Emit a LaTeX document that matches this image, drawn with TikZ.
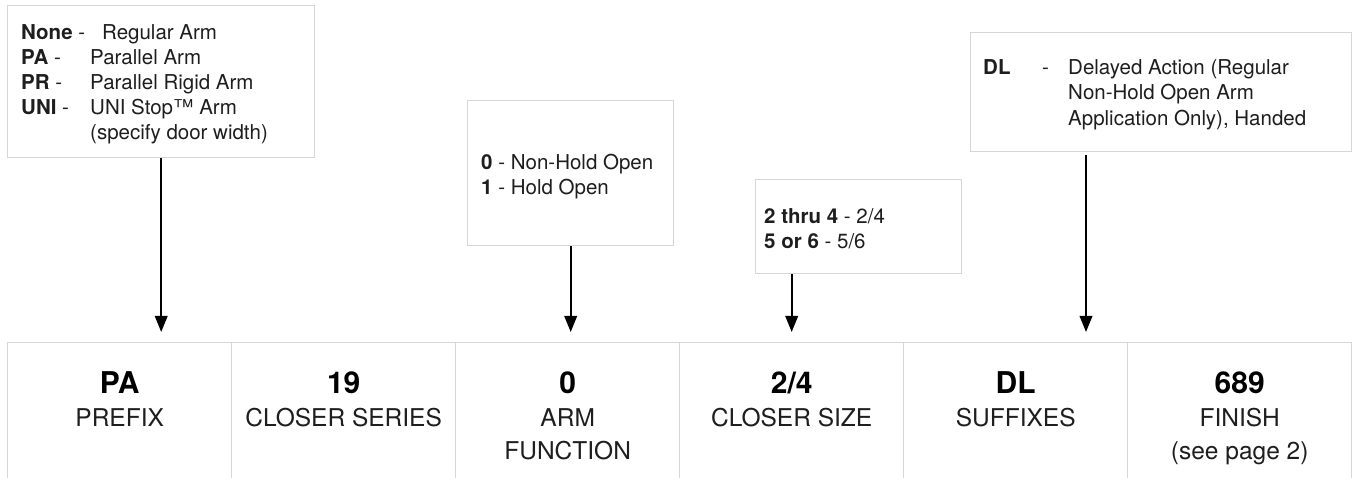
\documentclass[tikz,border=0pt]{standalone}
\usepackage{fontspec}
\setmainfont{TeX Gyre Heros}
\usetikzlibrary{arrows.meta,calc}
\definecolor{bord}{HTML}{D6D6D6}
\definecolor{txt}{HTML}{1E1E1E}
\begin{document}
\begin{tikzpicture}[x=1pt,y=-1pt,
  box/.style={draw=bord,line width=1.4pt,fill=white,inner sep=0pt,anchor=north west},
  cell/.style={draw=bord,line width=1.4pt,inner sep=0pt,anchor=north west,minimum width=224pt,minimum height=200pt},
  btxt/.style={inner sep=0pt,anchor=base west,text=txt,font=\fontsize{20.5}{25}\selectfont},
  bigb/.style={inner sep=0pt,anchor=base,text=black,font=\fontsize{30}{34}\selectfont\bfseries},
  bigr/.style={inner sep=0pt,anchor=base,text=txt,font=\fontsize{24.5}{33}\selectfont},
  arr/.style={line width=2pt,-{Triangle[length=16pt,width=12.5pt]},shorten >=10pt}
]
\useasboundingbox (0,0) rectangle (1352,478);
\clip (0,0) rectangle (1352,478);
\fill[white] (0,0) rectangle (1352,478);

% table cells
\node[cell] (c1) at (7,342) {};
\node[cell] (c2) at (231,342) {};
\node[cell] (c3) at (455,342) {};
\node[cell] (c4) at (679,342) {};
\node[cell] (c5) at (903,342) {};
\node[cell] (c6) at (1127,342) {};

\coordinate (r1) at (0,393);
\coordinate (r2) at (0,426);
\coordinate (r3) at (0,459);

\node[bigb] (v1) at (c1.north |- r1) {PA};
\node[bigr] (l1) at (c1.north |- r2) {PREFIX};
\node[bigb] (v2) at (c2.north |- r1) {19};
\node[bigr] (l2) at (c2.north |- r2) {CLOSER SERIES};
\node[bigb] (v3) at (c3.north |- r1) {0};
\node[bigr] (l3) at (c3.north |- r2) {ARM};
\node[bigr] (l3b) at (c3.north |- r3) {FUNCTION};
\node[bigb] (v4) at (c4.north |- r1) {2/4};
\node[bigr] (l4) at (c4.north |- r2) {CLOSER SIZE};
\node[bigb] (v5) at (c5.north |- r1) {DL};
\node[bigr] (l5) at (c5.north |- r2) {SUFFIXES};
\node[bigb] (v6) at (c6.north |- r1) {689};
\node[bigr] (l6) at (c6.north |- r2) {FINISH};
\node[bigr] (l6b) at (c6.north |- r3) {(see page 2)};

% option boxes
\node[box,minimum width=307pt,minimum height=152pt] (b1) at (7,5) {};
\node[box,minimum width=206pt,minimum height=145pt] (b2) at (467,100) {};
\node[box,minimum width=206pt,minimum height=94pt] (b3) at (755,179) {};
\node[box,minimum width=381pt,minimum height=119pt] (b4) at (970,32) {};

% box 1 text
\node[btxt] (p1a) at (21,40) {\textbf{None} -};
\node[btxt] (p1b) at (102,40) {Regular Arm};
\node[btxt] (p2a) at (21,65) {\textbf{PA} -};
\node[btxt] (p2b) at (90,65) {Parallel Arm};
\node[btxt] (p3a) at (21,90) {\textbf{PR} -};
\node[btxt] (p3b) at (90,90) {Parallel Rigid Arm};
\node[btxt] (p4a) at (21,115) {\textbf{UNI} -};
\node[btxt] (p4b) at (90,115) {UNI Stop™ Arm};
\node[btxt] (p5b) at (90,140) {(specify door width)};

% box 2 text
\node[btxt] (q1) at (481,169.5) {\textbf{0} - Non-Hold Open};
\node[btxt] (q2) at (481,194.5) {\textbf{1} - Hold Open};

% box 3 text
\node[btxt] (s1) at (764,223.5) {\textbf{2 thru 4} - 2/4};
\node[btxt] (s2) at (764,248.5) {\textbf{5 or 6} - 5/6};

% box 4 text
\node[btxt] (d1a) at (983,74.5) {\textbf{DL}};
\node[btxt] (d1d) at (1042,74.5) {-};
\node[btxt] (d1b) at (1068,74.5) {Delayed Action (Regular};
\node[btxt] (d2b) at (1068,100) {Non-Hold Open Arm};
\node[btxt] (d3b) at (1068,125.5) {Application Only), Handed};

% arrows
\coordinate (a4) at (1086,0);
\draw[arr] (b1.south) -- (b1.south |- c1.north);
\draw[arr] (b2.south) -- (b2.south |- c3.north);
\draw[arr] (c4.north |- b3.south) -- (c4.north);
\draw[arr] ($(b4.south -| a4)+(0,3)$) -- (a4 |- c5.north);
\end{tikzpicture}
\end{document}
